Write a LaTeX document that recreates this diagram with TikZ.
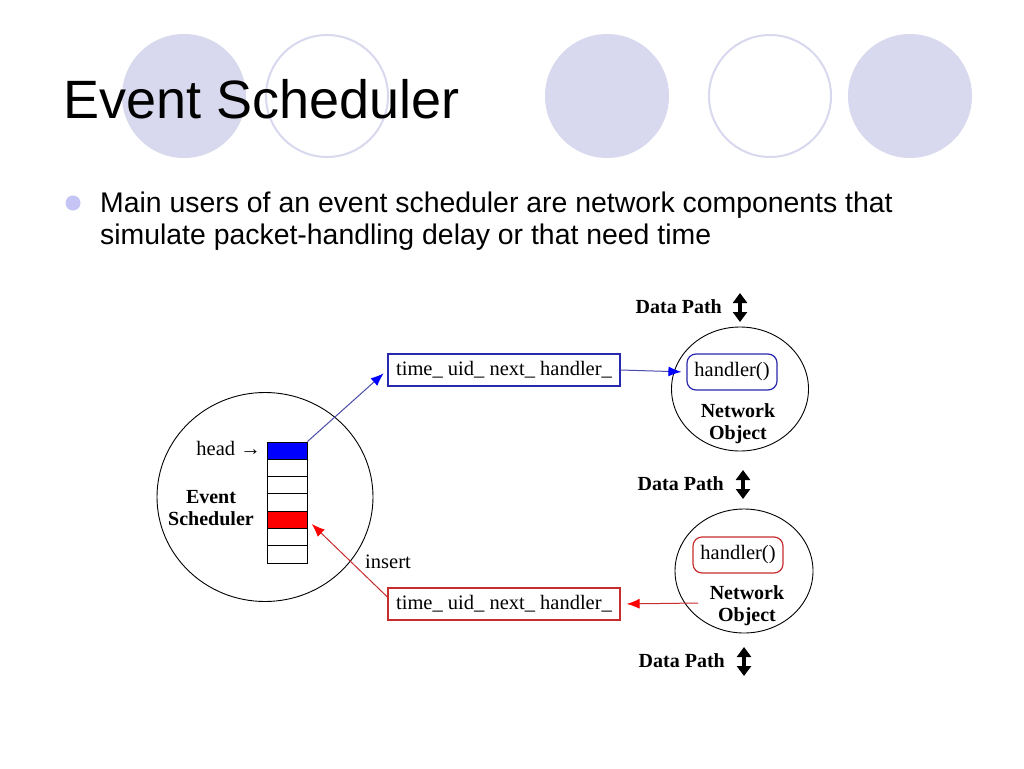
\documentclass[tikz,border=0pt]{standalone}
\usepackage{fontspec}
\setmainfont{Liberation Serif}
\newfontfamily\folienschrift{Liberation Sans}
\usetikzlibrary{arrows.meta}
\usetikzlibrary{shapes.geometric}
\definecolor{lila}{RGB}{216,216,238}
\definecolor{punkt}{RGB}{196,196,245}
\definecolor{kastenblau}{RGB}{40,40,175}
\definecolor{linieblau}{RGB}{75,75,170}
\definecolor{kastenrot}{RGB}{200,45,45}
\tikzset{
  zelle/.style={draw,line width=1pt,minimum width=40pt,minimum height=17.3pt,inner sep=0pt},
  kasten/.style={draw,line width=1.2pt,minimum width=232pt,minimum height=32pt,inner sep=0pt,font=\fontsize{20.5}{22}\selectfont},
  griff/.style={draw,line width=1.2pt,rounded corners=9pt,minimum width=90pt,minimum height=36pt,inner sep=0pt,font=\fontsize{20.5}{22}\selectfont},
  kreis/.style={draw,ellipse,line width=0.9pt,inner sep=0pt},
  fett/.style={font=\bfseries\fontsize{20}{22}\selectfont,align=center,inner sep=0pt},
  dppfeil/.style={line width=3.5pt,{Triangle[length=10pt,width=14pt]}-{Triangle[length=10pt,width=14pt]}},
  blaupfeil/.style={linieblau,line width=1pt,shorten >=5pt,-{Latex[length=13pt,width=10pt,color=blue]}},
  rotpfeil/.style={kastenrot,line width=1pt,shorten >=6pt,-{Latex[length=13pt,width=10pt,color=red]}}
}
\begin{document}
\begin{tikzpicture}[x=1pt,y=-1pt]
\useasboundingbox (0,0) rectangle (1024,768);
\fill[white] (0,0) rectangle (1024,768);
\def\kreise{{184,327,607,770,910}}
\foreach \i in {0,...,4} {
  \pgfmathsetmacro{\x}{\kreise[\i]};
  \ifodd\i
    \draw[lila,line width=2pt,fill=white] (\x,96) circle (61);
  \else
    \fill[lila] (\x,96) circle (62);
  \fi
}
\node[anchor=base west,inner sep=0pt,font=\folienschrift\fontsize{54}{60}\selectfont] (titel) at (63,118) {Event Scheduler};
\node[circle,fill=punkt,minimum size=15pt,inner sep=0pt] (punkt) at (73,203) {};
\node[anchor=base west,inner sep=0pt,font=\folienschrift\fontsize{28.4}{32}\selectfont] (zeile1) at (100,212) {Main users of an event scheduler are network components that};
\node[anchor=base west,inner sep=0pt,font=\folienschrift\fontsize{28.4}{32}\selectfont] (zeile2) at (100,244) {simulate packet-handling delay or that need time};

\node[kreis,minimum width=216pt,minimum height=209pt] (planer) at (265,497) {};
\def\zellen{{"blue","white","white","white","red","white","white"}}
\foreach \i in {0,...,6} {
  \pgfmathsetmacro{\f}{\zellen[\i]};
  \node[zelle,fill=\f] (z_\i) at (287,450.65+\i*17.3) {};
}
\node[anchor=east,inner sep=0pt,font=\fontsize{20.5}{22}\selectfont] (head) at (261,448) {head →};
\node[fett] (es) at (211,508) {Event\\Scheduler};

\node[kasten,draw=kastenblau] (box1) at (504,370) {time\_ uid\_ next\_ handler\_};
\node[kasten,draw=kastenrot] (box2) at (504,604) {time\_ uid\_ next\_ handler\_};

\node[kreis,minimum width=137pt,minimum height=124pt] (no1) at (740,389) {};
\node[griff,draw=kastenblau] (h1) at (732,372) {handler()};
\node[fett] (nt1) at (738,424) {Network\\Object};
\node[kreis,minimum width=138pt,minimum height=124pt] (no2) at (744,571) {};
\node[griff,draw=kastenrot] (h2) at (738,555) {handler()};
\node[fett] (nt2) at (747,606) {Network\\Object};

\foreach \t/\p/\y/\n in {722/740/307/1,724/743/484/2,725/744/661/3} {
  \node[fett,anchor=east] (dp\n) at (\t,\y) {Data Path};
  \coordinate (dpo\n) at (\p,\y-14);
  \coordinate (dpu\n) at (\p,\y+15);
  \draw[dppfeil] (dpo\n) -- (dpu\n);
}

\draw[blaupfeil] (z_0.north east) -- (box1.west);
\draw[blaupfeil] (box1.east) -- (h1.west);
\coordinate (rs) at ([yshift=7pt]box2.west);
\draw[rotpfeil] (rs) -- (z_4.east);
\coordinate (rq) at (698,603);
\draw[rotpfeil] (rq) -- (box2.east);
\node[font=\fontsize{20.5}{22}\selectfont,inner sep=0pt] (ins) at (388,562) {insert};
\end{tikzpicture}
\end{document}
